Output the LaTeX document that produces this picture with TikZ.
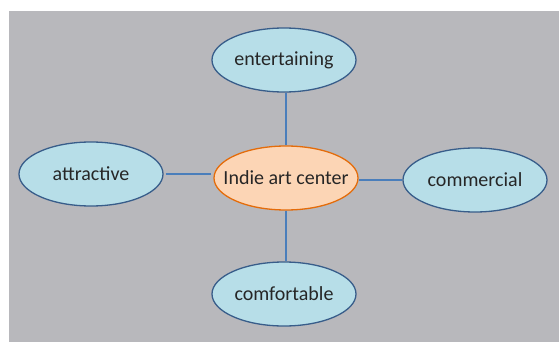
\documentclass[tikz,border=0pt]{standalone}
\usepackage{fontspec}
\setmainfont{Carlito}
\usetikzlibrary{shapes.geometric}
\definecolor{slidegray}{RGB}{184,184,188}
\definecolor{ovalblue}{RGB}{183,222,232}
\definecolor{ovaledge}{RGB}{56,93,138}
\definecolor{hubfill}{RGB}{252,213,181}
\definecolor{hubedge}{RGB}{228,108,10}
\definecolor{linkblue}{RGB}{74,126,187}
\tikzset{idea/.style={ellipse, draw=ovaledge, fill=ovalblue, line width=1.3pt,
         minimum width=144pt, minimum height=64pt, inner xsep=-25pt, inner ysep=0pt,
         font=\fontsize{20}{22}\selectfont, text=black!85},
         hub/.style={idea, draw=hubedge, fill=hubfill},
         link/.style={draw=linkblue, line width=1.1pt}}

\begin{document}
\begin{tikzpicture}[x=1pt, y=-1pt]
        \useasboundingbox (0,0) rectangle (559,342);
        \fill[white] (0,0) rectangle (559,342);
        \fill[slidegray] (9,11) rectangle (559,342);

        % Center idea
        \node[hub] (center) at (286,178) {Indie art center};

        % Surrounding ideas
        \node[idea] (entertaining) at (284,60) {entertaining};
        \node[idea] (attractive) at (91,174) {attractive};
        \node[idea] (commercial) at (475,180) {commercial};
        \node[idea] (comfortable) at (284,294) {comfortable};

        \draw[link] (entertaining.south -| center) -- (center.north);
        \draw[link] (center.south) -- (comfortable.north -| center);
        \draw[link, shorten <=2pt, shorten >=2pt] (attractive.east) -- (attractive.east -| center.west);
        \draw[link] (center.east |- commercial.west) -- (commercial.west);

\end{tikzpicture}
\end{document}
